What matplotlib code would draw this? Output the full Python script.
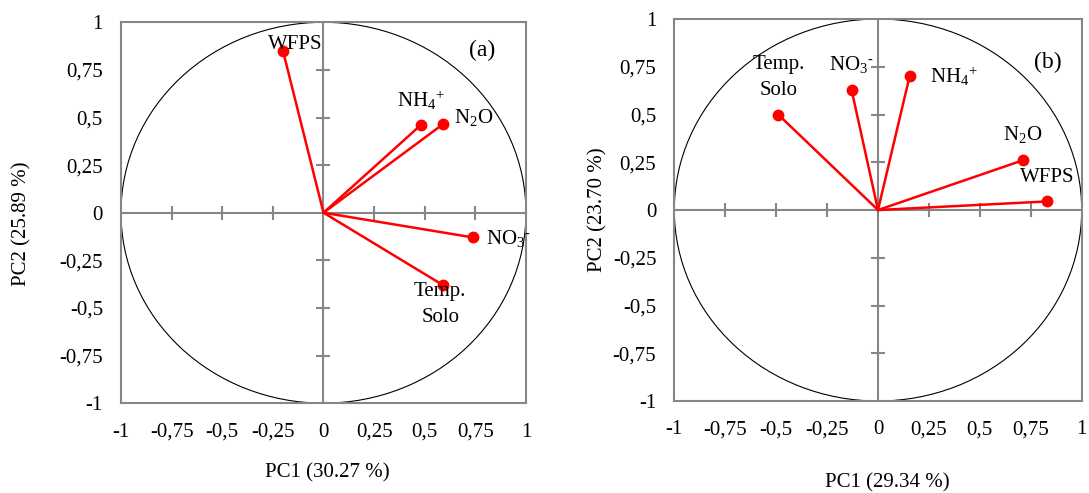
import matplotlib
matplotlib.use('Agg')
import matplotlib.pyplot as plt
from matplotlib.patches import Circle

plt.rcParams['font.family'] = ['Liberation Serif', 'DejaVu Serif']
plt.rcParams['mathtext.fontset'] = 'custom'
plt.rcParams['mathtext.rm'] = 'Liberation Serif'
plt.rcParams['mathtext.it'] = 'Liberation Serif:italic'
plt.rcParams['mathtext.bf'] = 'Liberation Serif:bold'

# ---------------- data ----------------
NH4 = r'$\mathrm{NH_4{}^{+}}$'
N2O = r'$\mathrm{N_2O}$'
NO3 = r'$\mathrm{NO_3{}^{\text{-}}}$'
TEMP = 'Temp.\nSolo'

variables_a = ['WFPS', NH4, N2O, NO3, TEMP]
pc1_a = [-0.20, 0.48, 0.59, 0.74, 0.59]
pc2_a = [0.85, 0.46, 0.465, -0.13, -0.38]

variables_b = [TEMP, NO3, NH4, N2O, 'WFPS']
pc1_b = [-0.49, -0.13, 0.155, 0.71, 0.83]
pc2_b = [0.50, 0.63, 0.70, 0.26, 0.045]

ticks = [-1, -0.75, -0.5, -0.25, 0, 0.25, 0.5, 0.75, 1]
tick_labels = ['-1', '-0,75', '-0,5', '-0,25', '0', '0,25', '0,5', '0,75', '1']
inner_ticks = [-0.75, -0.5, -0.25, 0.25, 0.5, 0.75]

xlabel_a, ylabel_a, tag_a = 'PC1 (30.27 %)', 'PC2 (25.89 %)', '(a)'
xlabel_b, ylabel_b, tag_b = 'PC1 (29.34 %)', 'PC2 (23.70 %)', '(b)'

# label placement styles: (dx pt, dy pt, ha, va)
style_a = [(8.8, 1.2, 'center', 'baseline'),
           (0, 13.2, 'center', 'baseline'),
           (8.1, 0.5, 'left', 'baseline'),
           (8.9, -5, 'left', 'baseline'),
           (-2, 2, 'center', 'top')]
style_b = [(0.5, 10.7, 'center', 'bottom'),
           (0, 14, 'center', 'baseline'),
           (14.4, -5, 'left', 'baseline'),
           (0, 14.5, 'center', 'baseline'),
           (0, 14, 'center', 'baseline')]

FS = 15
GRAY = '#868686'

fig = plt.figure(figsize=(10.89, 4.93), dpi=100)
ax_a = fig.add_axes([0.1111, 0.1822, 0.3719, 0.7726])
ax_b = fig.add_axes([0.6192, 0.1866, 0.3741, 0.7748])


def draw(ax, names, xs, ys, styles, xlabel, ylabel, tag, tagpos, xlc, ylc):
    ax.set_xlim(-1, 1)
    ax.set_ylim(-1, 1)
    for s in ax.spines.values():
        s.set_color(GRAY)
        s.set_linewidth(1.5)
    ax.set_xticks(ticks)
    ax.set_xticklabels(tick_labels, fontsize=FS)
    ax.set_yticks(ticks)
    ax.set_yticklabels(tick_labels, fontsize=FS)
    ax.tick_params(axis='x', length=0, pad=14)
    ax.tick_params(axis='y', length=0, pad=13)

    ax.add_patch(Circle((0, 0), 1, fill=False, ec='black', lw=0.8, zorder=1))
    ax.axhline(0, color=GRAY, lw=1.5, zorder=2)
    ax.axvline(0, color=GRAY, lw=1.5, zorder=2)
    ax.plot(inner_ticks, [0] * len(inner_ticks), ls='none', marker='|',
            ms=10, mew=1.5, color=GRAY, zorder=2)
    ax.plot([0] * len(inner_ticks), inner_ticks, ls='none', marker='_',
            ms=10, mew=1.5, color=GRAY, zorder=2)

    for name, x, y, (dx, dy, ha, va) in zip(names, xs, ys, styles):
        ax.plot([0, x], [0, y], color='red', lw=1.8, zorder=3,
                solid_capstyle='round')
        ax.plot([x], [y], ls='none', marker='o', ms=7.5, color='red', zorder=4)
        ax.annotate(name, (x, y), xytext=(dx, dy), textcoords='offset points',
                    ha=ha, va=va, fontsize=FS, linespacing=1.5, zorder=5)

    ax.text(tagpos[0], tagpos[1], tag, transform=ax.transAxes,
            ha='center', va='center', fontsize=17)
    ax.set_xlabel(xlabel, fontsize=FS)
    ax.set_ylabel(ylabel, fontsize=FS)
    ax.xaxis.set_label_coords(*xlc)
    ax.yaxis.set_label_coords(*ylc)


draw(ax_a, variables_a, pc1_a, pc2_a, style_a, xlabel_a, ylabel_a, tag_a,
     (0.891, 0.927), (0.51, -0.157), (-0.22, 0.47))
draw(ax_b, variables_b, pc1_b, pc2_b, style_b, xlabel_b, ylabel_b, tag_b,
     (0.917, 0.887), (0.523, -0.19), (-0.165, 0.501))

fig.savefig('out.png', dpi=100)
